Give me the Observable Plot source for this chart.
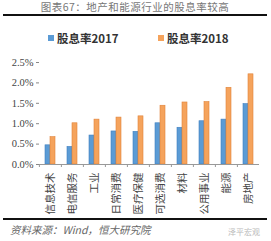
<!DOCTYPE html>
<html><head><meta charset="utf-8">
<script src="https://cdn.jsdelivr.net/npm/d3@7"></script>
<script src="https://cdn.jsdelivr.net/npm/@observablehq/plot@0.6"></script>
<style>
body{margin:0;background:#fff;width:271px;height:241px;overflow:hidden;font-family:"Noto Sans CJK SC",sans-serif;}
#title{position:absolute;left:3px;top:0;width:264px;height:14px;border-bottom:2px solid #111;text-align:center;font-size:10.5px;line-height:14px;color:#777;letter-spacing:0.5px;}
#legend{position:absolute;top:30px;left:0;width:271px;height:16px;font-size:11.5px;font-weight:bold;color:#333;}
.li{position:absolute;top:0;display:flex;align-items:center;height:16px;}
.sw{width:6px;height:6px;margin-right:3px;}
#chart{position:absolute;top:50px;left:0;}
#foot{position:absolute;left:3px;top:218px;width:264px;border-top:2px solid #111;}
#src{position:absolute;left:10px;top:222px;font-size:10.5px;font-style:italic;color:#666;}
#wm{position:absolute;left:228px;top:226px;font-size:8px;color:#bbb;}
</style></head>
<body>
<div id="title">图表67：地产和能源行业的股息率较高</div>
<div id="legend"></div>
<div id="chart"></div>
<div id="foot"></div>
<div id="src">资料来源：Wind，恒大研究院</div>
<div id="wm">泽平宏观</div>
<script>
const categories = ["信息技术","电信服务","工业","日常消费","医疗保健","可选消费","材料","公用事业","能源","房地产"];
const series = ["股息率2017","股息率2018"];
const values2017 = [0.47,0.43,0.71,0.81,0.80,1.01,0.90,1.06,1.10,1.48];
const values2018 = [0.67,1.01,1.10,1.15,1.18,1.44,1.52,1.53,1.88,2.21];
const yTicks = [0,0.5,1.0,1.5,2.0,2.5];
const colors = ["#5b9bd5","#f5a35c"];
const strokes = ["#3f7fbf","#e0833a"];

const data = [];
categories.forEach((c,i)=>{
  data.push({cat:c, s:series[0], v:values2017[i]});
  data.push({cat:c, s:series[1], v:values2018[i]});
});

const leg = document.getElementById("legend");
[[48,0],[158,1]].forEach(([x,i])=>{
  const d = document.createElement("div");
  d.className="li"; d.style.left=x+"px";
  d.innerHTML = `<span class="sw" style="background:${colors[i]}"></span><span>${series[i]}</span>`;
  leg.appendChild(d);
});

const W = 271, ml = 38, mr = 11;
const step = (W - ml - mr)/categories.length;

const chart = Plot.plot({
  width: W, height: 166,
  marginTop: 12, marginBottom: 52, marginLeft: ml, marginRight: mr,
  style: {fontFamily: "Liberation Serif", fontSize: "10.5px", color: "#333", background: "transparent"},
  fx: {domain: categories, padding: 0, label: null},
  x: {domain: series, paddingInner: 0.1, paddingOuter: 0.95, axis: null},
  y: {domain: [0,2.5], ticks: yTicks, label: null},
  color: {domain: series, range: colors},
  marks: [
    Plot.barY(data, {fx:"cat", x:"s", y:"v", fill:"s", stroke: d=>d.s===series[0]?strokes[0]:strokes[1], strokeWidth:0.6}),
    Plot.axisY({ticks: yTicks, tickFormat: d=>d.toFixed(1)+"%", tickSize:3, tickPadding:3, stroke:"#888", fill:"#444", fontSize:10.5}),
    Plot.ruleX([0], {frameAnchor:"left", stroke:"#999"}),
    Plot.ruleY([0], {stroke:"#999"}),
    Plot.axisFx({anchor:"bottom", tickSize:0, tickRotate:-90, tickPadding:8, fontFamily:"Noto Sans CJK SC", fontSize:10.5, fill:"#444", label:null}),
    Plot.axisFx({anchor:"bottom", tickSize:3, dx:-step/2, tickFormat:()=>"", stroke:"#999", label:null})
  ]
});
document.getElementById("chart").appendChild(chart);
</script>
</body></html>
